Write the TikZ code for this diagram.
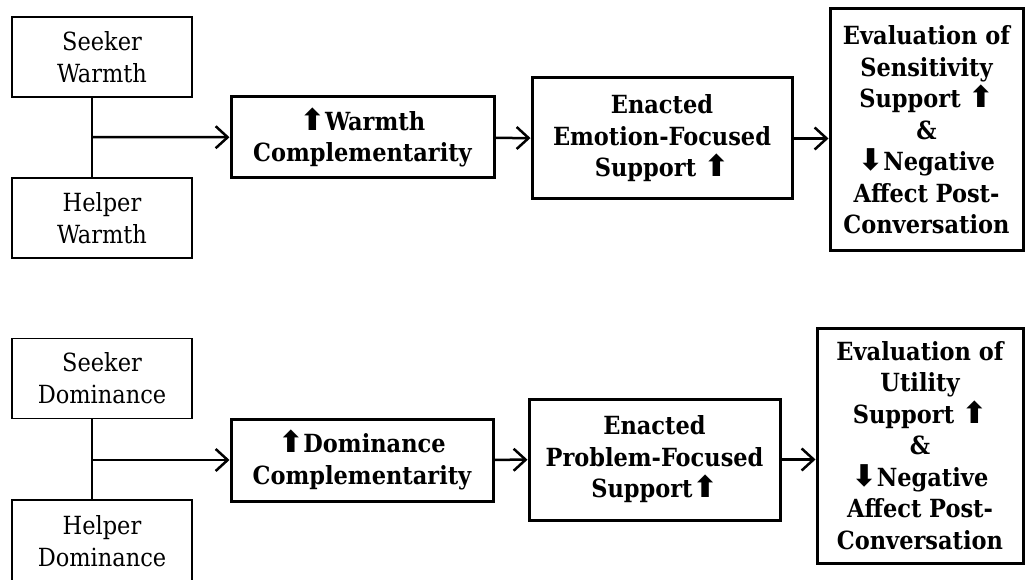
\documentclass[tikz,border=0pt]{standalone}
\usepackage{fontspec}
\setmainfont{DejaVu Serif Condensed}
\newfontfamily\arrowfont{DejaVu Sans}
\usetikzlibrary{arrows.meta}

\newcommand{\upa}{{\arrowfont\fontsize{30}{30}\selectfont\char"2B06}}
\newcommand{\dna}{{\arrowfont\fontsize{30}{30}\selectfont\char"2B07}}

\tikzset{
    trait/.style={draw, line width=1.5pt, minimum width=180pt, minimum height=80pt,
        align=center, inner sep=0pt, font=\fontsize{25}{32}\selectfont},
    stage/.style={draw, line width=3pt, align=center, inner sep=0pt,
        font=\fontsize{25}{31.5}\selectfont\bfseries},
    link/.style={line width=2.5pt, -{Straight Barb[length=12pt, width=22pt]}},
}

\begin{document}
\begin{tikzpicture}[x=1pt, y=-1pt]
    \useasboundingbox (0,0) rectangle (1026,580);

    % warmth
    \node[trait] (sw) at (102,57) {Seeker\\Warmth};
    \node[trait] (hw) at (102,218) {Helper\\Warmth};
    \node[stage, minimum width=263pt, minimum height=81pt] (wc) at (362.5,137.5)
        {\upa Warmth\\Complementarity};
    \node[stage, minimum width=260pt, minimum height=121pt] (ee) at (662,138.5)
        {Enacted\\Emotion-Focused\\Support \upa};
    \node[stage, minimum width=193pt, minimum height=242pt] (es) at (926.5,130)
        {Evaluation of\\Sensitivity\\Support \upa\\\&\\\dna Negative\\Affect Post-\\Conversation};
    \coordinate (jw) at (92,137);
    \draw[line width=1.5pt] (sw.south -| jw) -- (hw.north -| jw);
    \draw[link] (jw) -- (wc);
    \draw[link] (wc) -- (ee);
    \draw[link] (ee) -- (es.west |- ee);

    % dominance
    \node[trait] (sd) at (102,378.5) {Seeker\\Dominance};
    \node[trait, minimum height=82pt] (hd) at (102,541) {Helper\\Dominance};
    \node[stage, minimum width=262pt, minimum height=82pt] (dc) at (362,460)
        {\upa Dominance\\Complementarity};
    \node[stage, minimum width=251pt, minimum height=121pt] (ep) at (654.5,459.5)
        {Enacted\\Problem-Focused\\Support\upa};
    \node[stage, minimum width=206pt, minimum height=235pt] (eu) at (920,445.5)
        {Evaluation of\\Utility\\Support \upa\\\&\\\dna Negative\\Affect Post-\\Conversation};
    \coordinate (jd) at (92,460);
    \draw[line width=1.5pt] (sd.south -| jd) -- (hd.north -| jd);
    \draw[link] (jd) -- (dc);
    \draw[link] (dc) -- (ep);
    \draw[link] (ep) -- (eu.west |- ep);
\end{tikzpicture}
\end{document}
